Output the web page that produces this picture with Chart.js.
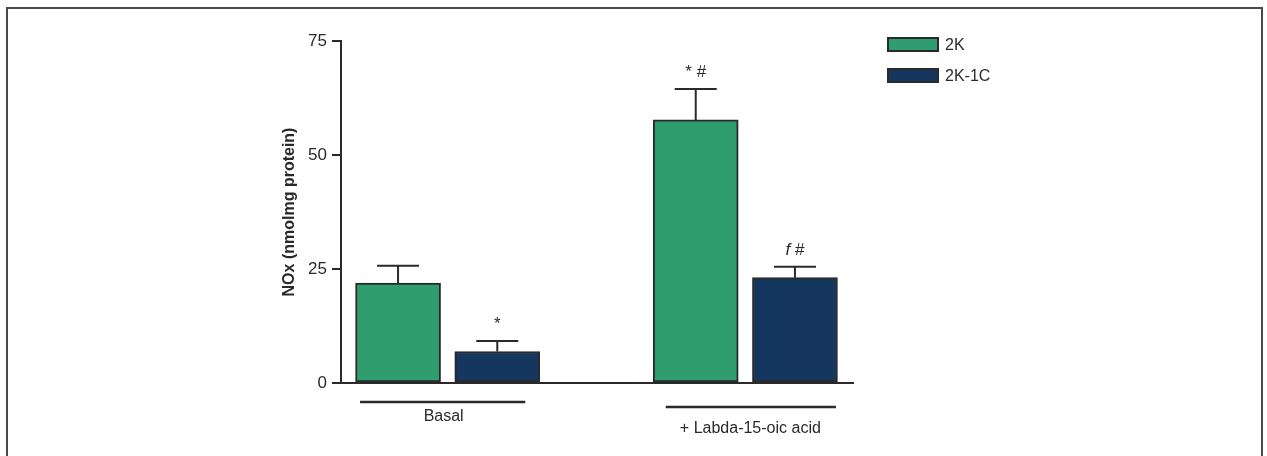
<!DOCTYPE html>
<html>
<head>
<meta charset="utf-8">
<script src="https://cdn.jsdelivr.net/npm/chart.js@4/dist/chart.umd.min.js"></script>
<style>
  html, body { margin: 0; padding: 0; background: #fff; }
  canvas { display: block; }
</style>
</head>
<body>
<canvas id="c" width="1267" height="456"></canvas>
<script>
// Groups on the x axis and the two kidney models
const groups = ['Basal', '+ Labda-15-oic acid'];
const seriesNames = ['2K', '2K-1C'];

// Mean NOx (nmol/mg protein) and SEM per group
const values2K = [21.9, 57.7];
const values2K1C = [6.9, 23.1];
const sem2K = [3.8, 6.8];
const sem2K1C = [2.3, 2.4];

// Significance marks over each bar
const marks2K = ['', '* #'];
const marks2K1C = ['*', 'f #'];

const yTicks = [0, 25, 50, 75];

const COLORS = ['#2f9d6e', '#14365f'];
const INK = '#2a2a2a';
const FONT = "'Liberation Sans', Arial, sans-serif";
const SLOTS_PER_GROUP = 3; // two bars plus an empty slot between groups

function buildSeries(values, errs, marks, seriesIndex) {
  return values.map((v, gi) => ({
    x: gi * SLOTS_PER_GROUP + seriesIndex,
    y: v,
    err: errs[gi],
    mark: marks[gi]
  }));
}

// Draws text where lowercase letters (statistic symbols) are italic
function drawMark(ctx, text, cx, baseline, size) {
  const parts = text.split('').map(ch => ({
    ch, font: (/[a-z]/.test(ch) ? 'italic ' : '') + size + 'px ' + FONT
  }));
  let total = 0;
  parts.forEach(p => { ctx.font = p.font; p.w = ctx.measureText(p.ch).width; total += p.w; });
  let x = cx - total / 2;
  ctx.textAlign = 'left';
  ctx.textBaseline = 'alphabetic';
  parts.forEach(p => { ctx.font = p.font; ctx.fillText(p.ch, x, baseline); x += p.w; });
}

const framePlugin = {
  id: 'frame',
  beforeDraw(chart) {
    const ctx = chart.ctx;
    ctx.save();
    ctx.strokeStyle = '#4a4a4a';
    ctx.lineWidth = 2;
    ctx.strokeRect(7, 8, 1255, 470);
    ctx.restore();
  }
};

const errorBarPlugin = {
  id: 'errorBars',
  afterDatasetsDraw(chart) {
    const ctx = chart.ctx;
    const y = chart.scales.y;
    ctx.save();
    chart.data.datasets.forEach((ds, di) => {
      const meta = chart.getDatasetMeta(di);
      meta.data.forEach((el, i) => {
        const d = ds.data[i];
        const top = y.getPixelForValue(d.y + d.err);
        ctx.strokeStyle = INK;
        ctx.lineWidth = 2;
        ctx.beginPath();
        ctx.moveTo(el.x, el.y);
        ctx.lineTo(el.x, top);
        ctx.moveTo(el.x - 21, top);
        ctx.lineTo(el.x + 21, top);
        ctx.stroke();
        if (d.mark) {
          ctx.fillStyle = INK;
          drawMark(ctx, d.mark, el.x, top - 12, 17);
        }
      });
    });
    ctx.restore();
  }
};

const groupLabelPlugin = {
  id: 'groupLabels',
  afterDraw(chart, args, opts) {
    const ctx = chart.ctx;
    const x = chart.scales.x;
    const bottom = chart.chartArea.bottom;
    ctx.save();
    groups.forEach((g, gi) => {
      const first = x.getPixelForValue(gi * SLOTS_PER_GROUP);
      const last = x.getPixelForValue(gi * SLOTS_PER_GROUP + seriesNames.length - 1);
      const o = opts.offsets[gi];
      ctx.strokeStyle = INK;
      ctx.lineWidth = 2.5;
      ctx.beginPath();
      ctx.moveTo(first - o.left, bottom + o.line);
      ctx.lineTo(last + o.right, bottom + o.line);
      ctx.stroke();
      ctx.fillStyle = INK;
      ctx.font = '16px ' + FONT;
      ctx.textAlign = 'center';
      ctx.textBaseline = 'middle';
      ctx.fillText(g, (first + last) / 2 + o.shift, bottom + o.text);
    });
    ctx.restore();
  }
};

const legendPlugin = {
  id: 'boxLegend',
  afterDraw(chart, args, opts) {
    const ctx = chart.ctx;
    const area = chart.chartArea;
    ctx.save();
    chart.data.datasets.forEach((ds, i) => {
      const x = area.right + opts.dx;
      const y = area.top + opts.dy + i * opts.row;
      ctx.fillStyle = ds.backgroundColor;
      ctx.fillRect(x, y, 50, 13);
      ctx.strokeStyle = INK;
      ctx.lineWidth = 2;
      ctx.strokeRect(x, y, 50, 13);
      ctx.fillStyle = INK;
      ctx.font = '16px ' + FONT;
      ctx.textAlign = 'left';
      ctx.textBaseline = 'middle';
      ctx.fillText(ds.label, x + 57, y + 7.5);
    });
    ctx.restore();
  }
};

new Chart(document.getElementById('c'), {
  type: 'bar',
  data: {
    datasets: [
      {
        label: seriesNames[0],
        data: buildSeries(values2K, sem2K, marks2K, 0),
        backgroundColor: COLORS[0],
        borderColor: INK,
        borderWidth: 2,
        borderSkipped: false,
        barThickness: 85,
        grouped: false
      },
      {
        label: seriesNames[1],
        data: buildSeries(values2K1C, sem2K1C, marks2K1C, 1),
        backgroundColor: COLORS[1],
        borderColor: INK,
        borderWidth: 2,
        borderSkipped: false,
        barThickness: 85,
        grouped: false
      }
    ]
  },
  options: {
    responsive: false,
    animation: false,
    layout: { padding: { left: 270, right: 414, top: 41, bottom: 73 } },
    plugins: {
      legend: { display: false },
      tooltip: { enabled: false },
      groupLabels: {
        offsets: [
          { line: 19, text: 34, shift: -4, left: 38, right: 28 },
          { line: 24, text: 46, shift: 5, left: 30, right: 41 }
        ]
      },
      boxLegend: { dx: 35, dy: -3, row: 31 }
    },
    scales: {
      x: {
        type: 'linear',
        offset: false,
        min: -0.575,
        max: 4.585,
        ticks: { display: false },
        grid: { display: false, offset: false },
        border: { display: true, color: INK, width: 2 },
        afterFit(s) { s.height = 0; }
      },
      y: {
        min: 0,
        max: 75,
        afterBuildTicks(s) { s.ticks = yTicks.map(v => ({ value: v })); },
        afterFit(s) { s.width = 71; },
        ticks: { color: INK, font: { family: FONT, size: 17 }, padding: 5 },
        grid: { drawOnChartArea: false, drawTicks: true, tickLength: 9, color: INK, lineWidth: 2 },
        border: { display: true, color: INK, width: 2 },
        title: {
          display: true,
          text: 'NOx (nmolmg protein)',
          color: INK,
          font: { family: FONT, size: 16, weight: 'bold' },
          padding: { top: 10, bottom: 0 }
        }
      }
    }
  },
  plugins: [framePlugin, errorBarPlugin, groupLabelPlugin, legendPlugin]
});
</script>
</body>
</html>
